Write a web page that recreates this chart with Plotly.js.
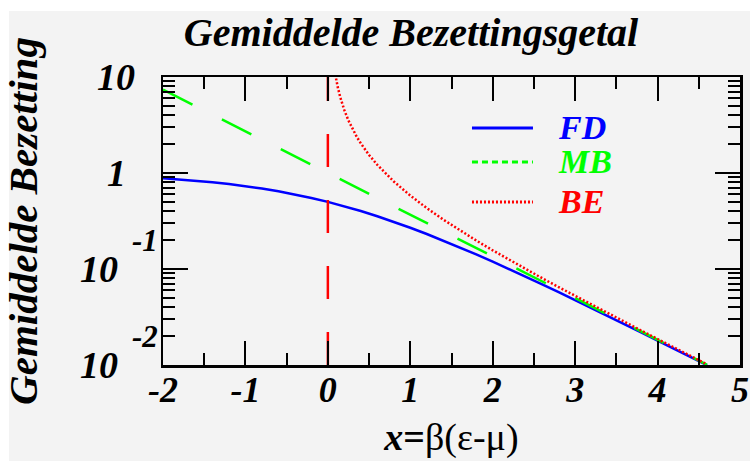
<!DOCTYPE html>
<html>
<head>
<meta charset="utf-8">
<script src="https://cdn.plot.ly/plotly-3.0.1.min.js"></script>
<style>
  html, body { margin: 0; padding: 0; background: #ffffff; width: 750px; height: 461px; overflow: hidden; }
  #bg { position: absolute; left: 9px; top: 11px; width: 741px; height: 450px; background: #f3f3f3; }
  #chart { position: absolute; left: 0; top: 0; width: 750px; height: 461px; }
</style>
</head>
<body>
<div id="bg"></div>
<div id="chart"></div>
<script>
// ---- data ----
const xGrid = [-2.0,-1.8,-1.6,-1.4,-1.2,-1.0,-0.8,-0.6,-0.4,-0.2,0.0,0.2,0.4,0.6,0.8,1.0,1.2,1.4,1.6,1.8,2.0,2.2,2.4,2.6,2.8,3.0,3.2,3.4,3.6,3.8,4.0,4.2,4.4,4.6];
const yFD = [0.8808,0.8581,0.8320,0.8022,0.7685,0.7311,0.6900,0.6457,0.5987,0.5498,0.5000,0.4502,0.4013,0.3543,0.3100,0.2689,0.2315,0.1978,0.1680,0.1419,0.1192,0.09975,0.08317,0.06914,0.05732,0.04743,0.03917,0.03230,0.02660,0.02188,0.01799,0.01477,0.01213,0.009952];
const yMB = [7.389,6.050,4.953,4.055,3.320,2.718,2.226,1.822,1.492,1.221,1.000,0.8187,0.6703,0.5488,0.4493,0.3679,0.3012,0.2466,0.2019,0.1653,0.1353,0.1108,0.09072,0.07427,0.06081,0.04979,0.04076,0.03337,0.02732,0.02237,0.01832,0.01500,0.01228,0.01005];
const xBE = [0.09,0.10,0.12,0.15,0.20,0.25,0.30,0.35,0.40,0.45,0.50,0.60,0.70,0.80,1.0,1.2,1.4,1.6,1.8,2.0,2.2,2.4,2.6,2.8,3.0,3.2,3.4,3.6,3.8,4.0,4.2,4.4,4.6];
const yBE = [10.62,9.508,7.843,6.179,4.517,3.521,2.858,2.386,2.033,1.760,1.5415,1.2164,0.9864,0.8160,0.5820,0.4310,0.3273,0.2530,0.1980,0.1565,0.1246,0.09977,0.08023,0.06475,0.05240,0.04249,0.03453,0.02809,0.02288,0.01866,0.01522,0.01243,0.01015];
const xMu = [0, 0];
const yMu = [0.01, 10];

const seriesNames = ['FD', 'MB', 'BE'];
const seriesColors = ['#0000ff', '#00ff00', '#ff0000'];

const yTickVals = [0.01, 0.1, 1, 10];
const yTickBase = ['10', '10', '1', '10'];
const yTickExp  = ['-2', '-1', '', ''];
const yMinorVals = [0.02,0.03,0.04,0.05,0.06,0.07,0.08,0.09,0.2,0.3,0.4,0.5,0.6,0.7,0.8,0.9,2,3,4,5,6,7,8,9];
const xTickVals = [-2, -1, 0, 1, 2, 3, 4, 5];

const titleText = 'Gemiddelde Bezettingsgetal';
const xTitleText = '<b><i>x</i>=</b>β(ε-μ)';
const yTitleText = 'Gemiddelde Bezetting';

// ---- drawing ----
const SERIF = '"Liberation Serif", "Times New Roman", serif';
const bi = (size, color) => ({family: SERIF, size: size, color: color || '#000', weight: 'bold', style: 'italic'});

const traces = [
  {x: xGrid, y: yFD, mode: 'lines', name: seriesNames[0], line: {color: seriesColors[0], width: 2.5}},
  {x: xGrid, y: yMB, mode: 'lines', name: seriesNames[1], line: {color: seriesColors[1], width: 2.5, dash: '33px,33px'}},
  {x: xBE, y: yBE, mode: 'lines', name: seriesNames[2], line: {color: seriesColors[2], width: 2.5, dash: '2px,2px'}},
  {x: xMu, y: yMu, mode: 'lines', showlegend: false, line: {color: seriesColors[2], width: 2.5, dash: '33px,33px'}}
];

const annotations = [];
const shapes = [];
yTickVals.forEach((v, i) => {
  const hasExp = yTickExp[i] !== '';
  annotations.push({xref: 'paper', yref: 'y', x: 0, y: Math.log10(v), xanchor: 'center', yanchor: 'middle',
    xshift: hasExp ? -64 : -47, yshift: 0, text: yTickBase[i], showarrow: false, font: bi(38)});
  if (hasExp) {
    annotations.push({xref: 'paper', yref: 'y', x: 0, y: Math.log10(v), xanchor: 'center', yanchor: 'middle',
      xshift: -18, yshift: 29, text: yTickExp[i], showarrow: false, font: bi(31)});
  }
});

const legY = [0.823, 0.705, 0.566];
const legDash = ['solid', '6px,4px', '2px,2px'];
seriesNames.forEach((n, i) => {
  shapes.push({type: 'line', xref: 'paper', yref: 'paper', x0: 0.5355, x1: 0.6412, y0: legY[i], y1: legY[i],
    line: {color: seriesColors[i], width: 3, dash: legDash[i]}});
  annotations.push({xref: 'paper', yref: 'paper', x: 0.6815, y: legY[i], xanchor: 'left', yanchor: 'middle',
    text: n, showarrow: false, font: bi(34, seriesColors[i])});
});

const layout = {
  width: 750, height: 461,
  paper_bgcolor: 'rgba(0,0,0,0)', plot_bgcolor: '#f3f3f3',
  margin: {l: 163, r: 10, t: 77, b: 96, pad: 0},
  showlegend: false,
  title: {text: titleText, font: bi(40), xref: 'container', x: 0.548, xanchor: 'center', yref: 'container', y: 0.931, yanchor: 'middle'},
  xaxis: {
    range: [-2, 5], tickvals: xTickVals, ticktext: xTickVals.map(String),
    ticks: 'inside', ticklen: 24, tickwidth: 2, tickcolor: '#000',
    minor: {dtick: 0.5, tick0: 0, ticks: 'inside', ticklen: 12, tickwidth: 2, tickcolor: '#000'},
    showline: true, linecolor: '#000', linewidth: 2.5, mirror: 'allticks',
    showgrid: false, zeroline: false, tickfont: bi(36), ticklabelstandoff: -9,
    title: {text: xTitleText, font: {family: SERIF, size: 38, color: '#000'}, standoff: 15},
    automargin: false
  },
  yaxis: {
    type: 'log', range: [-2, 1], tickvals: yTickVals, showticklabels: false,
    ticks: 'inside', ticklen: 25, tickwidth: 2, tickcolor: '#000',
    minor: {tickmode: 'array', tickvals: yMinorVals, ticks: 'inside', ticklen: 12, tickwidth: 2, tickcolor: '#000'},
    showline: true, linecolor: '#000', linewidth: 2.5, mirror: 'allticks',
    showgrid: false, zeroline: false,
    title: {text: yTitleText, font: bi(41), standoff: 128},
    automargin: false
  },
  annotations: annotations,
  shapes: shapes
};

Plotly.newPlot('chart', traces, layout, {displayModeBar: false, staticPlot: true});
</script>
</body>
</html>
